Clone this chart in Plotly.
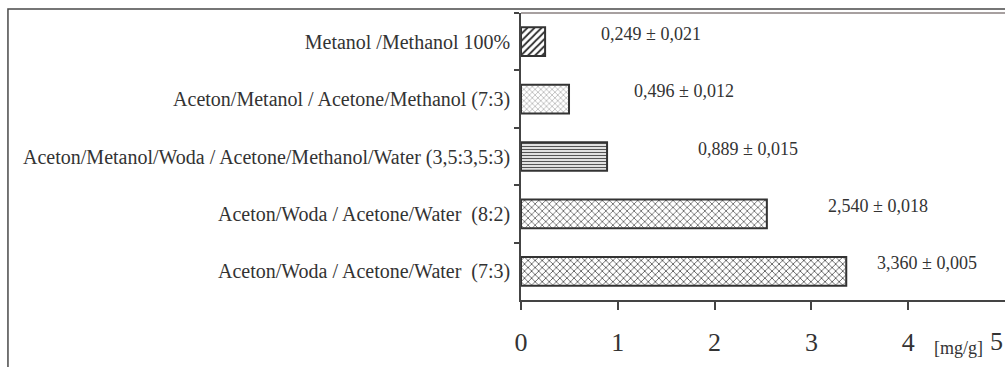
import plotly.graph_objects as go

# Extraction solvents, listed top to bottom
solvents = [
    "Metanol /Methanol 100%",
    "Aceton/Metanol / Acetone/Methanol (7:3)",
    "Aceton/Metanol/Woda / Acetone/Methanol/Water (3,5:3,5:3)",
    "Aceton/Woda / Acetone/Water  (8:2)",
    "Aceton/Woda / Acetone/Water  (7:3)",
]
content_mg_g = [0.249, 0.496, 0.889, 2.540, 3.360]
std_dev = [0.021, 0.012, 0.015, 0.018, 0.005]
x_ticks = [0, 1, 2, 3, 4]

# Fill pattern per bar (shape, size, solidity, ink colour)
patterns = [
    ("/", 5, 0.35, "#2a2a2a"),
    ("x", 4, 0.22, "#808080"),
    ("-", 3, 0.45, "#555555"),
    ("x", 5, 0.28, "#555555"),
    ("x", 5, 0.3, "#505050"),
]
# Horizontal centre of each value label, in axis units
label_x = [1.343, 1.684, 2.35, 3.693, 4.194]

SERIF = "Liberation Serif"
INK = "#333333"

fig = go.Figure()
for name, val, (shp, sz, sol, col) in zip(solvents, content_mg_g, patterns):
    fig.add_trace(go.Bar(
        x=[val], y=[name], orientation="h", width=0.5,
        marker=dict(
            color="white",
            line=dict(color="#333333", width=2),
            pattern=dict(shape=shp, size=sz, solidity=sol,
                         fgcolor=col, bgcolor="white", fillmode="replace"),
        ),
        showlegend=False, hoverinfo="skip",
    ))

def fmt(v):
    return f"{v:.3f}".replace(".", ",")

annotations = []
for name, val, sd, lx in zip(solvents, content_mg_g, std_dev, label_x):
    annotations.append(dict(
        x=lx, y=name, xref="x", yref="y", xanchor="center", yanchor="middle",
        yshift=8, showarrow=False, text=f"{fmt(val)} ± {fmt(sd)}",
        font=dict(family=SERIF, size=18, color=INK),
    ))
annotations.append(dict(
    x=0.903, y=-0.167, xref="paper", yref="paper", showarrow=False,
    xanchor="center", yanchor="middle", text="[mg/g]",
    font=dict(family=SERIF, size=18, color=INK),
))
# last tick value, kept inside the right edge of the figure
annotations.append(dict(
    x=1.0, y=-0.143, xref="paper", yref="paper", showarrow=False,
    xanchor="right", yanchor="middle", text="5",
    font=dict(family=SERIF, size=26, color=INK),
))

shapes = [
    # outer chart frame
    dict(type="rect", xref="paper", yref="paper", x0=-1.06, x1=1.2,
         y0=-0.4, y1=1.0139, line=dict(color="#4a4a4a", width=1.5),
         layer="below"),
    # plot-area top border
    dict(type="line", xref="paper", yref="paper", x0=0, x1=1.2, y0=1, y1=1,
         line=dict(color="#8a8080", width=1.5)),
]

fig.update_layout(
    width=1005, height=367,
    margin=dict(l=521, r=0, t=13, b=67),
    paper_bgcolor="white", plot_bgcolor="white",
    barmode="overlay",
    annotations=annotations, shapes=shapes,
    xaxis=dict(
        range=[0, 5], tickvals=x_ticks, ticktext=[str(t) for t in x_ticks],
        ticks="outside", ticklen=8, tickcolor="#444444", tickwidth=1.5,
        ticklabelstandoff=10,
        showline=True, linecolor="#444444", linewidth=1.5,
        showgrid=False, zeroline=False,
        tickfont=dict(family=SERIF, size=26, color=INK),
    ),
    yaxis=dict(
        categoryorder="array", categoryarray=solvents, autorange="reversed",
        ticks="outside", ticklen=5, tickson="boundaries",
        tickcolor="#444444", tickwidth=1.5, ticklabelstandoff=5,
        showline=True, linecolor="#444444", linewidth=1.5,
        showgrid=False, zeroline=False,
        tickfont=dict(family=SERIF, size=20, color=INK),
    ),
)

fig.write_html("out.html")
